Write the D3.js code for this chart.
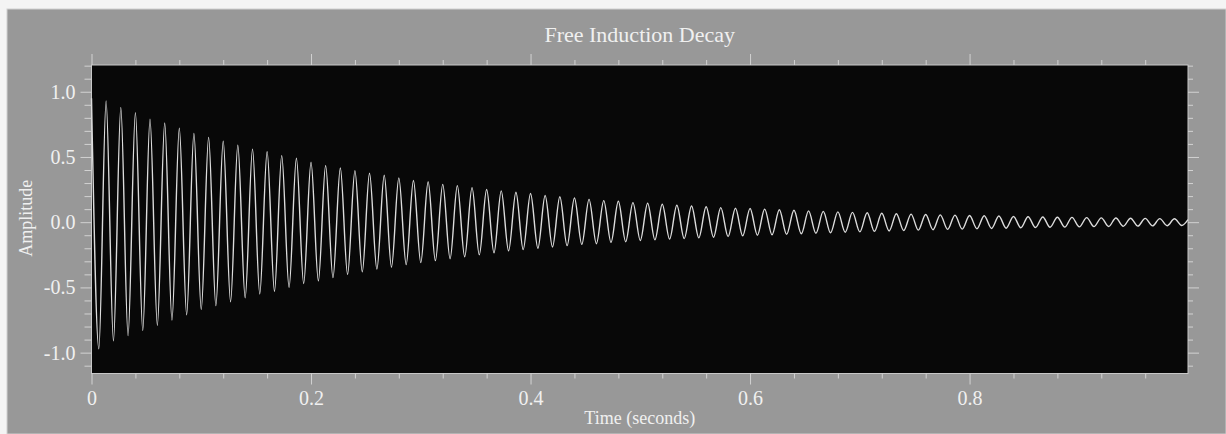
<!DOCTYPE html>
<html>
<head>
<meta charset="utf-8">
<script src="https://cdn.jsdelivr.net/npm/d3@7"></script>
<style>
  html, body { margin: 0; padding: 0; background: #f4f4f4; }
  svg { display: block; }
  text { font-family: "Liberation Serif", "Times New Roman", serif; fill: #f0f0f0; }
</style>
</head>
<body>
<div id="chart"></div>
<script>
// Chart text
const title = "Free Induction Decay";
const xLabel = "Time (seconds)";
const yLabel = "Amplitude";

// Axis ticks
const xMajorTicks = [0, 0.2, 0.4, 0.6, 0.8];
const xMinorTicks = [0.04, 0.08, 0.12, 0.16, 0.24, 0.28, 0.32, 0.36, 0.44, 0.48, 0.52, 0.56,
                     0.64, 0.68, 0.72, 0.76, 0.84, 0.88, 0.92, 0.96];
const yMajorTicks = [-1.0, -0.5, 0.0, 0.5, 1.0];
const yMinorTicks = [-1.1, -0.9, -0.8, -0.7, -0.6, -0.4, -0.3, -0.2, -0.1,
                     0.1, 0.2, 0.3, 0.4, 0.6, 0.7, 0.8, 0.9, 1.1, 1.2];

// Signal maxima (time in s, amplitude)
const peakTime = [
  0, 0.0133, 0.0267, 0.04, 0.0533, 0.0667, 0.08, 0.0933, 0.1067, 0.12, 0.1333, 0.1467, 0.16, 0.1733, 0.1867,
  0.2, 0.2133, 0.2267, 0.24, 0.2533, 0.2667, 0.28, 0.2933, 0.3067, 0.32, 0.3333, 0.3467, 0.36, 0.3733, 0.3867,
  0.4, 0.4133, 0.4267, 0.44, 0.4533, 0.4667, 0.48, 0.4933, 0.5067, 0.52, 0.5333, 0.5467, 0.56, 0.5733, 0.5867,
  0.6, 0.6133, 0.6267, 0.64, 0.6533, 0.6667, 0.68, 0.6933, 0.7067, 0.72, 0.7333, 0.7467, 0.76, 0.7733, 0.7867,
  0.8, 0.8133, 0.8267, 0.84, 0.8533, 0.8667, 0.88, 0.8933, 0.9067, 0.92, 0.9333, 0.9467, 0.96, 0.9733, 0.9867
];
const peakAmp = [
  0.95, 0.93, 0.88, 0.84, 0.79, 0.76, 0.72, 0.68, 0.65, 0.62, 0.59, 0.56, 0.54, 0.51, 0.49,
  0.46, 0.435, 0.415, 0.395, 0.375, 0.36, 0.34, 0.32, 0.31, 0.29, 0.28, 0.265, 0.25, 0.24, 0.23,
  0.22, 0.205, 0.195, 0.185, 0.175, 0.165, 0.16, 0.15, 0.145, 0.137, 0.13, 0.124, 0.118, 0.112, 0.107,
  0.105, 0.10, 0.095, 0.091, 0.087, 0.083, 0.079, 0.075, 0.072, 0.068, 0.065, 0.062, 0.059, 0.056, 0.054,
  0.051, 0.049, 0.047, 0.044, 0.042, 0.040, 0.038, 0.037, 0.035, 0.033, 0.032, 0.030, 0.029, 0.027, 0.026
];

// Signal minima
const troughTime = [
  0.0067, 0.02, 0.0333, 0.0467, 0.06, 0.0733, 0.0867, 0.1, 0.1133, 0.1267, 0.14, 0.1533, 0.1667, 0.18, 0.1933,
  0.2067, 0.22, 0.2333, 0.2467, 0.26, 0.2733, 0.2867, 0.3, 0.3133, 0.3267, 0.34, 0.3533, 0.3667, 0.38, 0.3933,
  0.4067, 0.42, 0.4333, 0.4467, 0.46, 0.4733, 0.4867, 0.5, 0.5133, 0.5267, 0.54, 0.5533, 0.5667, 0.58, 0.5933,
  0.6067, 0.62, 0.6333, 0.6467, 0.66, 0.6733, 0.6867, 0.7, 0.7133, 0.7267, 0.74, 0.7533, 0.7667, 0.78, 0.7933,
  0.8067, 0.82, 0.8333, 0.8467, 0.86, 0.8733, 0.8867, 0.9, 0.9133, 0.9267, 0.94, 0.9533, 0.9667, 0.98, 0.9933
];
const troughAmp = [
  -0.97, -0.91, -0.87, -0.83, -0.79, -0.75, -0.71, -0.67, -0.64, -0.61, -0.58, -0.55, -0.53, -0.50, -0.47,
  -0.45, -0.425, -0.40, -0.38, -0.36, -0.345, -0.325, -0.31, -0.295, -0.28, -0.265, -0.25, -0.235, -0.22, -0.21,
  -0.20, -0.19, -0.18, -0.17, -0.165, -0.155, -0.15, -0.14, -0.135, -0.13, -0.125, -0.12, -0.115, -0.11, -0.105,
  -0.10, -0.097, -0.093, -0.089, -0.085, -0.081, -0.077, -0.074, -0.070, -0.067, -0.064, -0.061, -0.058, -0.055, -0.053,
  -0.050, -0.048, -0.046, -0.043, -0.041, -0.039, -0.038, -0.036, -0.034, -0.033, -0.031, -0.030, -0.028, -0.027, -0.025
];

// Last sample of the record
const tailTime = [0.999];
const tailAmp = [0.02];

// Layout
const W = 1226, H = 434;
const margin = { top: 65, right: 38, bottom: 60.5, left: 91.5 };
const width = W - margin.left - margin.right;
const height = H - margin.top - margin.bottom;
const majorLen = 11, minorLen = 5;
const tickColor = "#d2d2d2";

const svg = d3.select("#chart").append("svg")
    .attr("width", W)
    .attr("height", H);

// Grey panel
svg.append("rect")
    .attr("x", 7).attr("y", 9)
    .attr("width", W - 7).attr("height", H - 9)
    .attr("fill", "#989898")
    .attr("stroke", "#cfcfcf");

const g = svg.append("g")
    .attr("transform", `translate(${margin.left},${margin.top})`);

const x = d3.scaleLinear().domain([0, 0.999]).range([0, width]);
const y = d3.scaleLinear().domain([-1.16, 1.205]).range([height, 0]);

// Plot area
g.append("rect")
    .attr("width", width)
    .attr("height", height)
    .attr("fill", "#080808")
    .attr("stroke", "#c8c8c8")
    .attr("stroke-width", 1);

// Merge extrema in time order
const points = peakTime.map((t, i) => ({ t: t, v: peakAmp[i] }))
    .concat(troughTime.map((t, i) => ({ t: t, v: troughAmp[i] })))
    .concat(tailTime.map((t, i) => ({ t: t, v: tailAmp[i] })))
    .sort((a, b) => a.t - b.t);

const line = d3.line()
    .x(d => x(d.t))
    .y(d => y(d.v))
    .curve(d3.curveMonotoneX);

g.append("path")
    .datum(points)
    .attr("fill", "none")
    .attr("stroke", "#dcdcdc")
    .attr("stroke-width", 1.4)
    .attr("d", line);

// Axes helper
function drawAxis(axisFn, scale, ticks, len, fmt, transform) {
    const a = g.append("g")
        .attr("transform", transform)
        .call(axisFn(scale).tickValues(ticks).tickSize(len).tickSizeOuter(0).tickPadding(6).tickFormat(fmt));
    a.select(".domain").remove();
    a.selectAll("line").attr("stroke", tickColor);
    a.selectAll("text")
        .style("font-family", "'Liberation Serif', serif")
        .style("font-size", "20px")
        .attr("fill", "#f0f0f0");
    return a;
}

const xFmt = d => d === 0 ? "0" : d.toFixed(1);
const yFmt = d => d.toFixed(1);
const none = () => "";

// bottom
drawAxis(d3.axisBottom, x, xMajorTicks, majorLen, xFmt, `translate(0,${height})`);
drawAxis(d3.axisBottom, x, xMinorTicks, minorLen, none, `translate(0,${height})`);
// top
drawAxis(d3.axisTop, x, xMajorTicks, majorLen, none, "translate(0,0)");
drawAxis(d3.axisTop, x, xMinorTicks, minorLen, none, "translate(0,0)");
// left
drawAxis(d3.axisLeft, y, yMajorTicks, majorLen, yFmt, "translate(0,0)")
    .selectAll("text").attr("x", -16);
drawAxis(d3.axisLeft, y, yMinorTicks, minorLen + 2, none, "translate(0,0)");
// right
drawAxis(d3.axisRight, y, yMajorTicks, majorLen, none, `translate(${width},0)`);
drawAxis(d3.axisRight, y, yMinorTicks, minorLen, none, `translate(${width},0)`);

// Titles
svg.append("text")
    .attr("x", margin.left + width / 2)
    .attr("y", 42)
    .attr("text-anchor", "middle")
    .style("font-size", "22px")
    .text(title);

svg.append("text")
    .attr("x", margin.left + width / 2)
    .attr("y", 424)
    .attr("text-anchor", "middle")
    .style("font-size", "18px")
    .text(xLabel);

svg.append("text")
    .attr("transform", `translate(32,${margin.top + y(0) - 4}) rotate(-90)`)
    .attr("text-anchor", "middle")
    .style("font-size", "18px")
    .text(yLabel);
</script>
</body>
</html>
